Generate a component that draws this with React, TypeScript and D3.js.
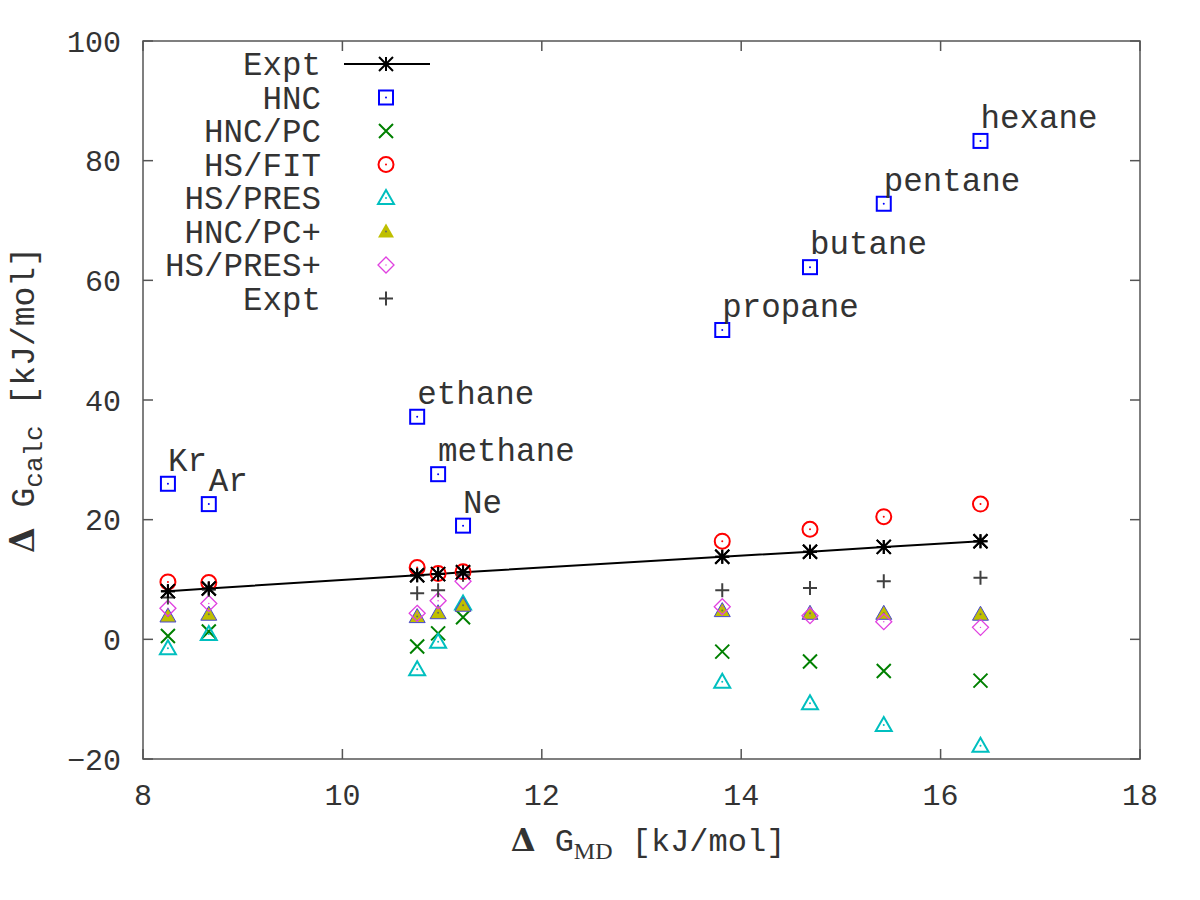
import * as d3 from "d3";
import React, { useEffect, useRef } from "react";

// molecules / atoms, in the order they are plotted
const names = ["Kr", "Ar", "ethane", "methane", "Ne", "propane", "butane", "pentane", "hexane"];
// x: ΔG_MD [kJ/mol]
const gMD = [8.25, 8.66, 10.75, 10.96, 11.21, 13.81, 14.69, 15.43, 16.4];
// y series: ΔG_calc [kJ/mol]
const exptLine = [8.05, 8.5, 10.7, 10.9, 11.2, 13.8, 14.65, 15.45, 16.4];
const hnc = [26.0, 22.6, 37.2, 27.6, 19.0, 51.7, 62.2, 72.8, 83.3];
const hncPc = [0.55, 1.3, -1.2, 1.0, 3.7, -2.05, -3.7, -5.3, -6.9];
const hsFit = [9.6, 9.5, 12.0, 11.0, 11.3, 16.4, 18.4, 20.5, 22.6];
const hsPres = [-1.5, 0.9, -5.0, -0.4, 6.0, -7.1, -10.7, -14.3, -17.8];
const hncPcPlus = [3.9, 4.2, 3.8, 4.45, 5.7, 4.8, 4.35, 4.35, 4.2];
const hsPresPlus = [5.2, 6.0, 4.35, 6.45, 9.7, 5.45, 3.95, 2.95, 2.0];
const exptPlus = [7.0, 8.3, 7.7, 8.2, 10.8, 8.2, 8.6, 9.7, 10.3];

// names of series in the legend
const seriesNames = ["Expt", "HNC", "HNC/PC", "HS/FIT", "HS/PRES", "HNC/PC+", "HS/PRES+", "Expt"];
const xTicks = [8, 10, 12, 14, 16, 18];
const yTicks = [-20, 0, 20, 40, 60, 80, 100];

type Marker = "star" | "square" | "cross" | "circle" | "triangle" | "fillTriangle" | "diamond" | "plus";

const FONT = "'Liberation Mono', 'DejaVu Sans Mono', monospace";
const TEXT = "#333";

const Chart: React.FC = () => {
  const ref = useRef<SVGSVGElement>(null);

  useEffect(() => {
    if (!ref.current) return;
    const svg = d3.select(ref.current);
    svg.selectAll("*").remove();

    const width = 1200,
      height = 900,
      margin = { top: 41, right: 60, bottom: 141, left: 143 };

    const x = d3.scaleLinear().domain([8, 18]).range([margin.left, width - margin.right]);
    const y = d3.scaleLinear().domain([-20, 100]).range([height - margin.bottom, margin.top]);

    svg.append("rect").attr("width", width).attr("height", height).attr("fill", "white");

    // frame + mirrored inward ticks
    const frame = svg.append("g").attr("stroke", "#555").attr("stroke-width", 1.5).attr("fill", "none");
    frame
      .append("rect")
      .attr("x", x(8))
      .attr("y", y(100))
      .attr("width", x(18) - x(8))
      .attr("height", y(-20) - y(100));
    const tl = 10;
    xTicks.forEach((t) => {
      frame.append("line").attr("x1", x(t)).attr("x2", x(t)).attr("y1", y(-20)).attr("y2", y(-20) - tl);
      frame.append("line").attr("x1", x(t)).attr("x2", x(t)).attr("y1", y(100)).attr("y2", y(100) + tl);
    });
    yTicks.forEach((t) => {
      frame.append("line").attr("x1", x(8)).attr("x2", x(8) + tl).attr("y1", y(t)).attr("y2", y(t));
      frame.append("line").attr("x1", x(18)).attr("x2", x(18) - tl).attr("y1", y(t)).attr("y2", y(t));
    });

    // tick labels
    svg
      .append("g")
      .selectAll("text")
      .data(xTicks)
      .enter()
      .append("text")
      .attr("x", (d) => x(d))
      .attr("y", y(-20) + 46)
      .attr("text-anchor", "middle")
      .style("font-family", FONT)
      .style("font-size", "30px")
      .attr("fill", TEXT)
      .text((d) => d);
    svg
      .append("g")
      .selectAll("text")
      .data(yTicks)
      .enter()
      .append("text")
      .attr("x", x(8) - 22)
      .attr("y", (d) => y(d))
      .attr("dy", "0.35em")
      .attr("text-anchor", "end")
      .style("font-family", FONT)
      .style("font-size", "30px")
      .attr("fill", TEXT)
      .text((d) => (d < 0 ? `\u2212${-d}` : `${d}`));

    // axis titles
    const xt = svg
      .append("text")
      .attr("x", 648)
      .attr("y", 851)
      .attr("text-anchor", "middle")
      .style("font-family", FONT)
      .style("font-size", "32px")
      .attr("fill", TEXT);
    xt.append("tspan").style("font-family", "'DejaVu Serif', serif").style("font-weight", "bold").text("\u0394");
    xt.append("tspan").text(" G");
    xt.append("tspan").attr("dy", 8).style("font-family", "'Liberation Serif', serif").style("font-size", "24px").text("MD");
    xt.append("tspan").attr("dy", -8).text(" [kJ/mol]");

    const yt = svg
      .append("text")
      .attr("transform", "translate(34,400) rotate(-90)")
      .attr("text-anchor", "middle")
      .style("font-family", FONT)
      .style("font-size", "33px")
      .attr("fill", TEXT);
    yt.append("tspan").style("font-family", "'DejaVu Serif', serif").style("font-weight", "bold").text("\u0394");
    yt.append("tspan").text(" G");
    yt.append("tspan").attr("dy", 8).style("font-size", "26px").text("calc");
    yt.append("tspan").attr("dy", -8).text(" [kJ/mol]");

    // marker drawing
    const drawMarker = (g: d3.Selection<SVGGElement, unknown, null, undefined>, m: Marker, color: string, legend = false) => {
      const r = 7;
      const dot = () => g.append("circle").attr("r", 1).attr("fill", color);
      if (m === "square") {
        g.append("rect").attr("x", -r).attr("y", -r).attr("width", 2 * r).attr("height", 2 * r)
          .attr("fill", "none").attr("stroke", color).attr("stroke-width", 2);
        dot();
      } else if (m === "circle") {
        g.append("circle").attr("r", 7.5).attr("fill", "none").attr("stroke", color).attr("stroke-width", 2);
        dot();
      } else if (m === "triangle") {
        g.append("path").attr("d", "M0,-8L8,6L-8,6Z").attr("fill", "none").attr("stroke", color).attr("stroke-width", 2);
        dot();
      } else if (m === "fillTriangle") {
        g.append("path").attr("d", "M0,-8L8,6L-8,6Z").attr("fill", color)
          .attr("stroke", legend ? "none" : "#4848d0").attr("stroke-width", 1);
        dot().attr("fill", "#666");
      } else if (m === "diamond") {
        g.append("path").attr("d", "M0,-8L8,0L0,8L-8,0Z").attr("fill", "none").attr("stroke", color).attr("stroke-width", 1.3);
        dot().attr("r", 0.7);
      } else if (m === "cross") {
        g.append("path").attr("d", `M${-r},${-r}L${r},${r}M${-r},${r}L${r},${-r}`).attr("stroke", color).attr("stroke-width", 2);
      } else if (m === "plus") {
        g.append("path").attr("d", `M${-r},0L${r},0M0,${-r}L0,${r}`).attr("stroke", color).attr("stroke-width", 2);
      } else {
        g.append("path")
          .attr("d", `M${-r},0L${r},0M0,${-r}L0,${r}M${-r},${-r}L${r},${r}M${-r},${r}L${r},${-r}`)
          .attr("stroke", color).attr("stroke-width", 2);
      }
    };

    const series: { name: string; values: number[]; marker: Marker; color: string }[] = [
      { name: seriesNames[0], values: exptLine, marker: "star", color: "#000" },
      { name: seriesNames[1], values: hnc, marker: "square", color: "#0000ff" },
      { name: seriesNames[2], values: hncPc, marker: "cross", color: "#008000" },
      { name: seriesNames[3], values: hsFit, marker: "circle", color: "#ff0000" },
      { name: seriesNames[4], values: hsPres, marker: "triangle", color: "#00bfbf" },
      { name: seriesNames[5], values: hncPcPlus, marker: "fillTriangle", color: "#bfbf00" },
      { name: seriesNames[6], values: hsPresPlus, marker: "diamond", color: "#e040e0" },
      { name: seriesNames[7], values: exptPlus, marker: "plus", color: "#404040" },
    ];

    // Expt line
    svg
      .append("path")
      .attr("d", d3.line<number>().x((d, i) => x(gMD[i])).y((d) => y(d))(exptLine))
      .attr("fill", "none")
      .attr("stroke", "#000")
      .attr("stroke-width", 2);

    // points
    series.forEach((s) => {
      s.values.forEach((v, i) => {
        const g = svg.append("g").attr("transform", `translate(${x(gMD[i])},${y(v)})`);
        drawMarker(g, s.marker, s.color);
      });
    });

    // star over the circles
    exptLine.forEach((v, i) => {
      const g = svg.append("g").attr("transform", `translate(${x(gMD[i])},${y(v)})`);
      drawMarker(g, "star", "#000");
    });

    // labels beside HNC points
    svg
      .append("g")
      .selectAll("text")
      .data(names)
      .enter()
      .append("text")
      .attr("x", (d, i) => x(gMD[i]))
      .attr("y", (d, i) => y(hnc[i]) - 13)
      .style("font-family", FONT)
      .style("font-size", "32.5px")
      .attr("fill", TEXT)
      .text((d) => d);

    // legend
    const legend = svg.append("g");
    series.forEach((s, i) => {
      const ly = 64 + i * 33.5;
      legend
        .append("text")
        .attr("x", 321)
        .attr("y", ly)
        .attr("dy", "0.35em")
        .attr("text-anchor", "end")
        .style("font-family", FONT)
        .style("font-size", "32.5px")
        .attr("fill", TEXT)
        .text(s.name);
      if (i === 0) {
        legend.append("line").attr("x1", 344).attr("x2", 430).attr("y1", ly).attr("y2", ly)
          .attr("stroke", "#000").attr("stroke-width", 2);
      }
      const g = legend.append("g").attr("transform", `translate(386,${ly})`);
      drawMarker(g, s.marker, s.color, true);
    });
  }, []);

  return <svg ref={ref} width={1200} height={900} style={{ position: "absolute", left: 0, top: 0 }} />;
};

export default function App() {
  return <Chart />;
}
